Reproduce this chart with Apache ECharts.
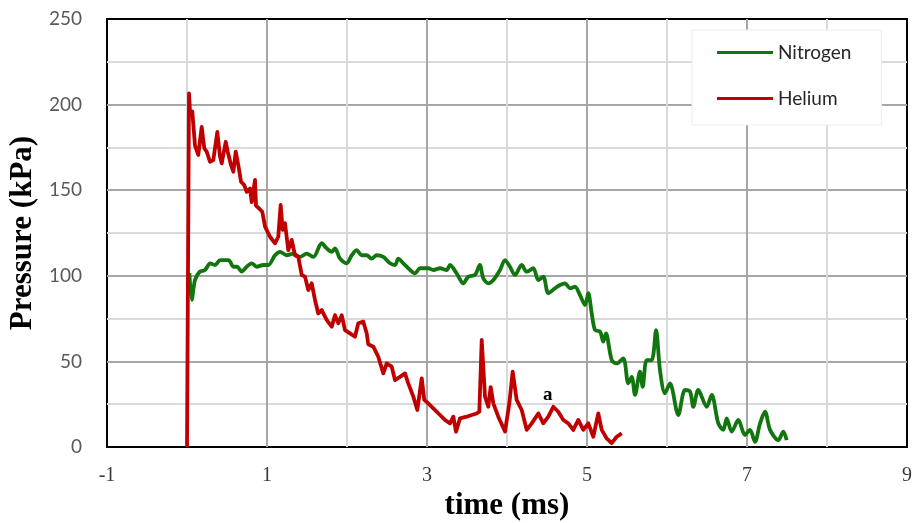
<!DOCTYPE html>
<html>
<head>
<meta charset="utf-8">
<script src="https://cdn.jsdelivr.net/npm/echarts@6/dist/echarts.min.js"></script>
<style>html,body{margin:0;padding:0;background:#fff}#c{width:914px;height:523px}</style>
</head>
<body>
<div id="c"></div>
<script>
var seriesNames = ['Nitrogen', 'Helium'];
var xTickLabels = [-1, 1, 3, 5, 7, 9];
var yTickLabels = [0, 50, 100, 150, 200, 250];

var heliumTime = [0.0, 0.025, 0.0375, 0.066, 0.1, 0.141, 0.184, 0.216, 0.246, 0.2875, 0.329, 0.379, 0.4125, 0.434, 0.484, 0.509, 0.55, 0.579, 0.609, 0.641, 0.675, 0.716, 0.746, 0.7875, 0.809, 0.85, 0.8625, 0.9, 0.941, 0.975, 1.0375, 1.1, 1.141, 1.171, 1.196, 1.225, 1.266, 1.309, 1.35, 1.391, 1.434, 1.475, 1.516, 1.559, 1.6, 1.641, 1.684, 1.746, 1.809, 1.85, 1.891, 1.934, 1.975, 2.0375, 2.1, 2.141, 2.204, 2.246, 2.266, 2.329, 2.391, 2.454, 2.496, 2.559, 2.6, 2.6625, 2.725, 2.766, 2.829, 2.879, 2.934, 2.966, 3.016, 3.079, 3.1625, 3.225, 3.2875, 3.329, 3.3625, 3.4125, 3.496, 3.559, 3.621, 3.654, 3.684, 3.725, 3.766, 3.796, 3.829, 3.891, 3.975, 4.029, 4.071, 4.121, 4.184, 4.246, 4.309, 4.391, 4.454, 4.516, 4.579, 4.641, 4.704, 4.766, 4.829, 4.891, 4.954, 5.016, 5.079, 5.141, 5.184, 5.246, 5.309, 5.371, 5.434];
var heliumPressure = [0, 206.6, 196, 196, 176, 170.6, 187, 174.5, 172.5, 166.6, 167.6, 184, 169.6, 165.7, 178.3, 172.5, 164.7, 160.8, 172.5, 164.7, 155, 153, 149, 151, 143, 156, 141, 139.4, 137.4, 128.7, 122.8, 119, 122.8, 141.4, 126.8, 130.7, 115, 121, 112, 111, 100.5, 99.5, 91.7, 95.6, 85.9, 78, 80, 74.2, 70.3, 77, 72.3, 77, 68.3, 66.4, 64.4, 72.3, 73.2, 66.4, 60, 58.6, 52.7, 43, 48.8, 46.9, 39.1, 41, 43, 37.2, 29.4, 21.6, 40.1, 27.5, 25.5, 22.6, 18.7, 15.8, 13.8, 17.7, 9, 16.7, 17.7, 18.7, 19.6, 20.6, 62.5, 29.4, 23.5, 35, 25.5, 17.7, 9, 25.5, 44, 27.5, 21.6, 10, 13.8, 19.6, 13.8, 17.7, 23.5, 20.6, 15.8, 13.8, 10, 15.8, 10, 13.8, 6, 19.6, 10, 5, 2.3, 6, 8];

var nitrogenTime = [0.03, 0.06, 0.1, 0.16, 0.225, 0.29, 0.35, 0.415, 0.52, 0.58, 0.625, 0.684, 0.746, 0.809, 0.871, 0.954, 1.016, 1.1, 1.163, 1.246, 1.329, 1.413, 1.496, 1.579, 1.684, 1.746, 1.809, 1.85, 1.913, 1.996, 2.059, 2.121, 2.184, 2.246, 2.309, 2.371, 2.454, 2.538, 2.6, 2.641, 2.704, 2.788, 2.85, 2.913, 3.016, 3.079, 3.163, 3.246, 3.288, 3.371, 3.454, 3.516, 3.6, 3.66, 3.704, 3.766, 3.829, 3.913, 3.975, 4.037, 4.1, 4.184, 4.246, 4.329, 4.391, 4.454, 4.516, 4.6, 4.662, 4.725, 4.788, 4.85, 4.912, 4.975, 5.016, 5.059, 5.1, 5.163, 5.204, 5.237, 5.309, 5.371, 5.454, 5.516, 5.559, 5.6, 5.662, 5.696, 5.746, 5.809, 5.863, 5.912, 5.975, 6.037, 6.141, 6.225, 6.288, 6.329, 6.391, 6.496, 6.559, 6.641, 6.704, 6.746, 6.809, 6.891, 6.975, 7.037, 7.1, 7.163, 7.225, 7.288, 7.391, 7.454, 7.496];
var nitrogenPressure = [101.6, 86, 97.5, 102.4, 103.4, 107.3, 106.3, 109.2, 109.2, 105.3, 105.3, 102.4, 105.3, 107.3, 105.3, 106.3, 106.3, 112, 114, 112, 113, 111, 113, 111, 119, 116, 114, 116, 110, 107.3, 112, 115, 112, 112, 110, 112, 111, 107.3, 106.3, 110, 107.3, 103.4, 101.4, 104.4, 104.4, 103.4, 104.4, 103.4, 106.3, 101.4, 95.6, 99.5, 100.5, 106.3, 98.5, 95.6, 97.5, 103.4, 109.2, 105.3, 100.5, 106.3, 102.4, 104.4, 97.5, 99.5, 89.8, 92.7, 94.6, 95.6, 92.7, 93.6, 88.8, 82.9, 89.8, 78, 68.3, 67.4, 61.5, 66.4, 50.8, 48.8, 51.8, 37.2, 41, 30.4, 44, 35.2, 50.8, 50.8, 68.3, 45, 31.4, 37.2, 18.7, 33.3, 32.3, 23.5, 33.3, 23.5, 30.4, 13.8, 10, 16.7, 9, 15.8, 7, 10, 3, 13.8, 20.6, 10, 4, 9, 4];

var annotationText = 'a';
var annotationCoord = [4.51, 30.4];

function zip(a, b) { return a.map(function (v, i) { return [v, b[i]]; }); }

var chart = echarts.init(document.getElementById('c'), null, { renderer: 'canvas' });
chart.setOption({
  animation: false,
  backgroundColor: '#fff',
  grid: { left: 107, right: 7, top: 19, bottom: 76, show: true, borderColor: '#000', borderWidth: 2, backgroundColor: 'transparent', containLabel: false, outerBoundsMode: 'none' },
  legend: {
    data: seriesNames,
    orient: 'vertical',
    left: 692, top: 30,
    padding: [13, 30, 17, 25],
    itemGap: 27,
    itemWidth: 56, itemHeight: 3,
    icon: 'rect',
    backgroundColor: '#fff',
    borderColor: '#ececec', borderWidth: 1,
    textStyle: { fontFamily: 'Lato', fontSize: 19, color: '#262626' }
  },
  xAxis: {
    type: 'value', min: -1, max: 9, interval: 2,
    name: 'time (ms)', nameLocation: 'middle', nameGap: 40,
    nameTextStyle: { fontFamily: 'Liberation Serif', fontWeight: 'bold', fontSize: 31, color: '#000' },
    axisLine: { show: false }, axisTick: { show: false },
    axisLabel: { fontFamily: 'Liberation Serif', fontSize: 20, color: '#3a3a3a', margin: 19,
      formatter: function (v) { return xTickLabels.indexOf(v) >= 0 ? String(v) : ''; } },
    splitLine: { show: true, showMinLine: false, showMaxLine: false, lineStyle: { color: '#a6a6a6', width: 2 } },
    minorTick: { show: false, splitNumber: 2 },
    minorSplitLine: { show: true, lineStyle: { color: '#d9d9d9', width: 2 } }
  },
  yAxis: {
    type: 'value', min: 0, max: 250, interval: 50,
    name: 'Pressure (kPa)', nameLocation: 'middle', nameGap: 62,
    nameTextStyle: { fontFamily: 'Liberation Serif', fontWeight: 'bold', fontSize: 31, color: '#000' },
    axisLine: { show: false }, axisTick: { show: false },
    axisLabel: { fontFamily: 'Lato', fontSize: 19, color: '#595959', margin: 25,
      formatter: function (v) { return yTickLabels.indexOf(v) >= 0 ? String(v) : ''; } },
    splitLine: { show: true, showMinLine: false, showMaxLine: false, lineStyle: { color: '#a6a6a6', width: 2 } },
    minorTick: { show: false, splitNumber: 2 },
    minorSplitLine: { show: true, lineStyle: { color: '#d9d9d9', width: 2 } }
  },
  series: [
    {
      name: seriesNames[0], type: 'line', data: zip(nitrogenTime, nitrogenPressure),
      showSymbol: false, symbol: 'none', smooth: 0.3,
      lineStyle: { color: '#12760f', width: 3.8 }, itemStyle: { color: '#12760f' }, z: 3
    },
    {
      name: seriesNames[1], type: 'line', data: zip(heliumTime, heliumPressure),
      showSymbol: false, symbol: 'none', smooth: false,
      lineStyle: { color: '#c00000', width: 3.8, join: 'round' }, itemStyle: { color: '#c00000' }, z: 4,
      markPoint: {
        symbol: 'circle', symbolSize: 1, itemStyle: { color: 'rgba(0,0,0,0)' },
        label: { show: true, position: 'inside', formatter: annotationText, fontFamily: 'Liberation Serif', fontWeight: 'bold', fontSize: 19, color: '#000' },
        data: [{ coord: annotationCoord }]
      }
    }
  ]
});
</script>
</body>
</html>
